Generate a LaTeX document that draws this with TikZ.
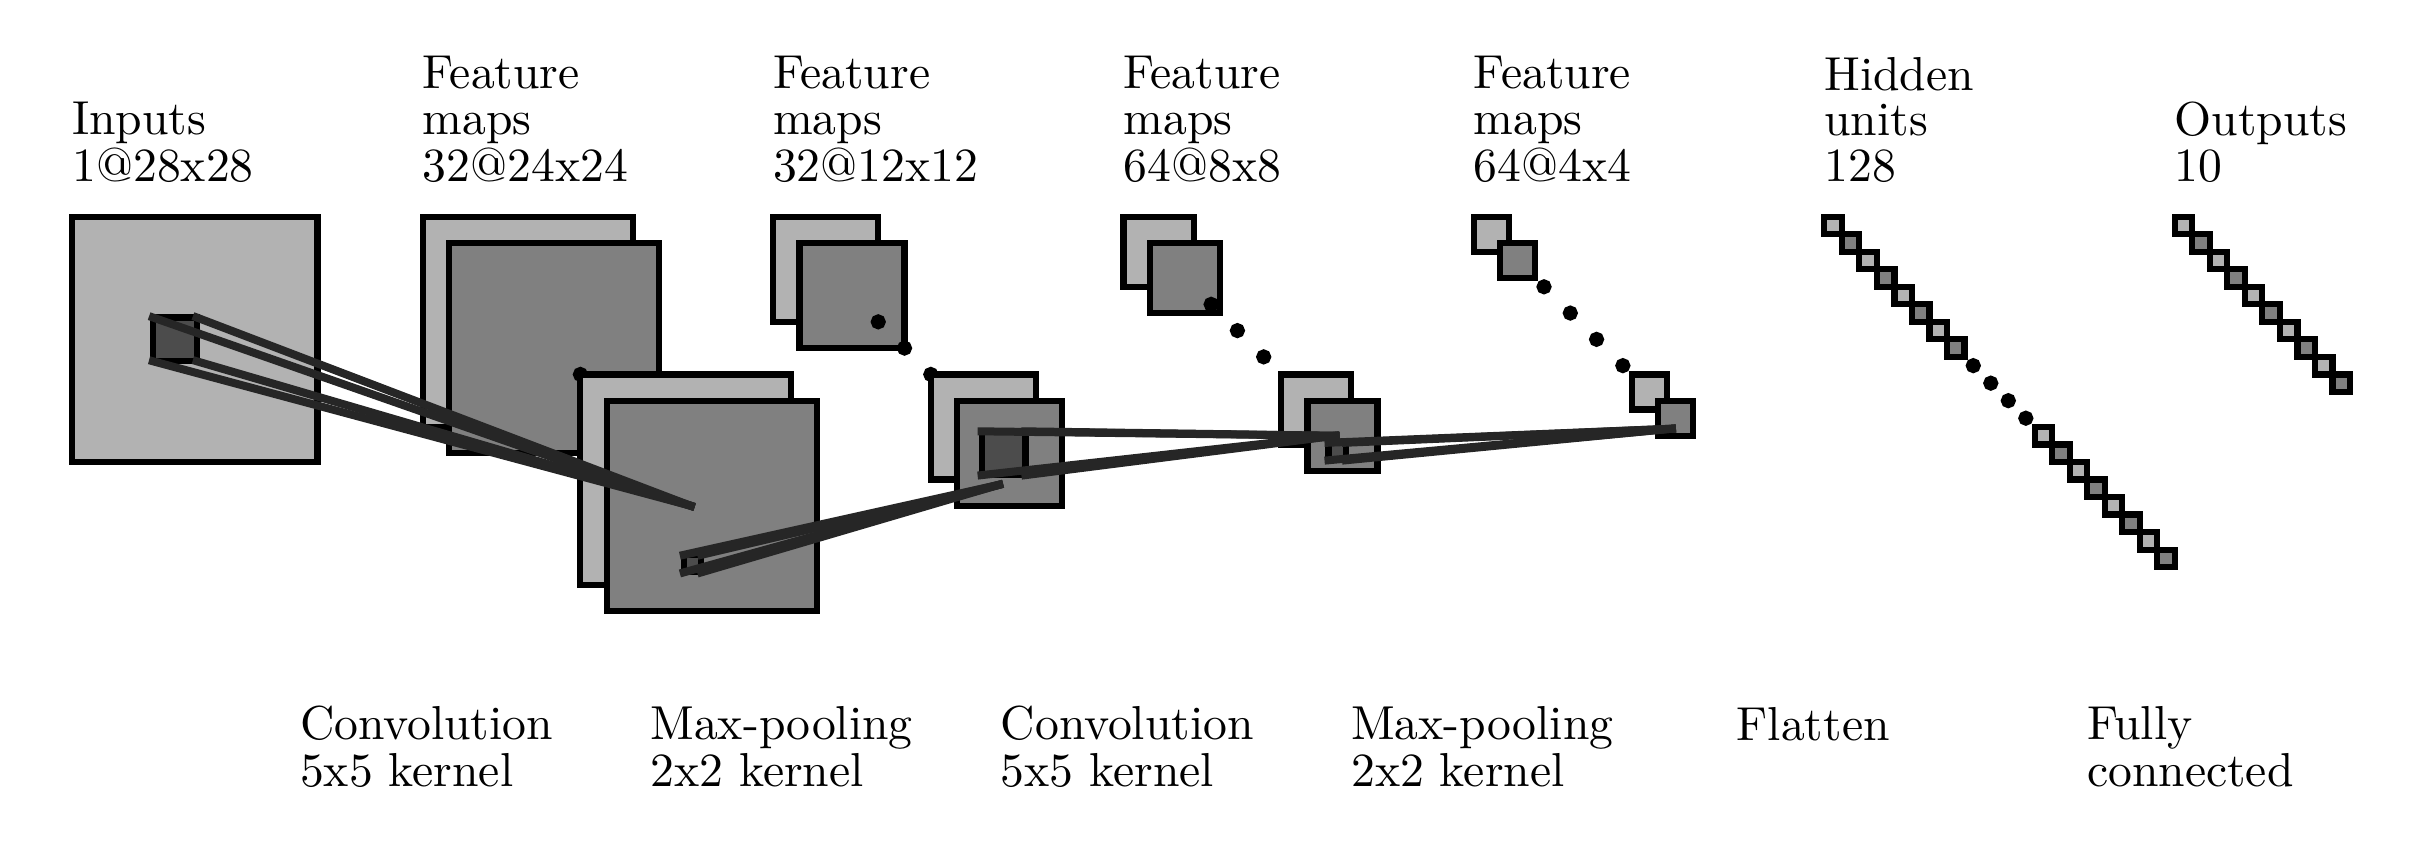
\documentclass[tikz,border=0pt]{standalone}
\definecolor{lightg}{gray}{0.7}
\definecolor{mediumg}{gray}{0.5}
\definecolor{darkg}{gray}{0.3}
\definecolor{darkerg}{gray}{0.15}
\newcommand\lblstack[1]{\begin{tabular}[b]{@{}l@{}}#1\end{tabular}}
\begin{document}
\begin{tikzpicture}[x=1.9027pt, y=1.9027pt,
  sq/.style={draw=black, line width=1.347pt},
  lt/.style={sq, fill=lightg},
  md/.style={sq, fill=mediumg},
  dotc/.style={sq, fill=black},
  patch/.style={draw=black, line width=1.347pt, fill=darkg, inner sep=0pt,
    outer sep=0pt, minimum size=#1, anchor=north west},
  conn/.style={draw=darkerg, line width=1.738pt, line cap=rect},
  lbl/.style={anchor=base west, inner sep=0pt, outer sep=0pt,
    font=\fontsize{10.35}{9.95}\selectfont}]
\useasboundingbox (-8.253,24.737) rectangle (267.54,-72.07);
% Inputs
\draw[lt] (0,0) rectangle ++(28,-28);
% conv / pool feature-map layers
\foreach \xo/\s in {40/24, 80/12, 120/8, 160/4} {
  \draw[lt] (\xo,0) rectangle ++(\s,-\s);
  \draw[md] (\xo+3,-3) rectangle ++(\s,-\s);
  \foreach \i in {2,3,4,5}
    \draw[dotc] (\xo+3*\i+\s/2, -3*\i-\s/2) circle[radius=0.5];
  \draw[lt] (\xo+18,-18) rectangle ++(\s,-\s);
  \draw[md] (\xo+21,-21) rectangle ++(\s,-\s);
}
% kernel patches
\node[patch=9.5135pt] (p1) at (9.2,-11.5) {};
\node[patch=3.8054pt] (p2) at (69.8,-38.6) {};
\node[patch=9.5135pt] (p3) at (103.8,-24.5) {};
\node[patch=3.8054pt] (p4) at (143.4,-25.8) {};
\coordinate (e1) at (70.6,-33);
\coordinate (e2) at (105.8,-30.6);
\coordinate (e3) at (144.2,-25);
\coordinate (e4) at (182.6,-24.2);
% hidden units
\foreach \i in {0,1,2,3,4,5,6,7,12,13,14,15,16,17,18,19} {
  \ifodd\i \def\fc{mediumg}\else\def\fc{lightg}\fi
  \draw[sq, fill=\fc] (200+2*\i,-2*\i) rectangle ++(2,-2);
}
\foreach \i in {8,9,10,11}
  \draw[dotc] (201+2*\i,-2*\i-1) circle[radius=0.5];
% outputs
\foreach \i in {0,...,9} {
  \ifodd\i \def\fc{mediumg}\else\def\fc{lightg}\fi
  \draw[sq, fill=\fc] (240+2*\i,-2*\i) rectangle ++(2,-2);
}
% mapping lines
\foreach \p/\e in {p1/e1, p2/e2, p3/e3, p4/e4}
  \foreach \c in {north west, north east, south west, south east}
    \draw[conn] (\p.\c) -- (\e);
% top labels
\node[lbl] (t0) at (0,4) {\lblstack{Inputs\\1@28x28}};
\node[lbl] (t1) at (40,4) {\lblstack{Feature\\maps\\32@24x24}};
\node[lbl] (t2) at (80,4) {\lblstack{Feature\\maps\\32@12x12}};
\node[lbl] (t3) at (120,4) {\lblstack{Feature\\maps\\64@8x8}};
\node[lbl] (t4) at (160,4) {\lblstack{Feature\\maps\\64@4x4}};
\node[lbl] (t5) at (200,4) {\lblstack{Hidden\\units\\128}};
\node[lbl] (t6) at (240,4) {\lblstack{Outputs\\10}};
% bottom labels
\node[lbl] (b0) at (26,-65) {\lblstack{Convolution\\5x5 kernel}};
\node[lbl] (b1) at (66,-65) {\lblstack{Max-pooling\\2x2 kernel}};
\node[lbl] (b2) at (106,-65) {\lblstack{Convolution\\5x5 kernel}};
\node[lbl] (b3) at (146,-65) {\lblstack{Max-pooling\\2x2 kernel}};
\node[lbl] (b4) at (190,-65) {\lblstack{Flatten\\\mbox{}}};
\node[lbl] (b5) at (230,-65) {\lblstack{Fully\\connected}};
\end{tikzpicture}
\end{document}
